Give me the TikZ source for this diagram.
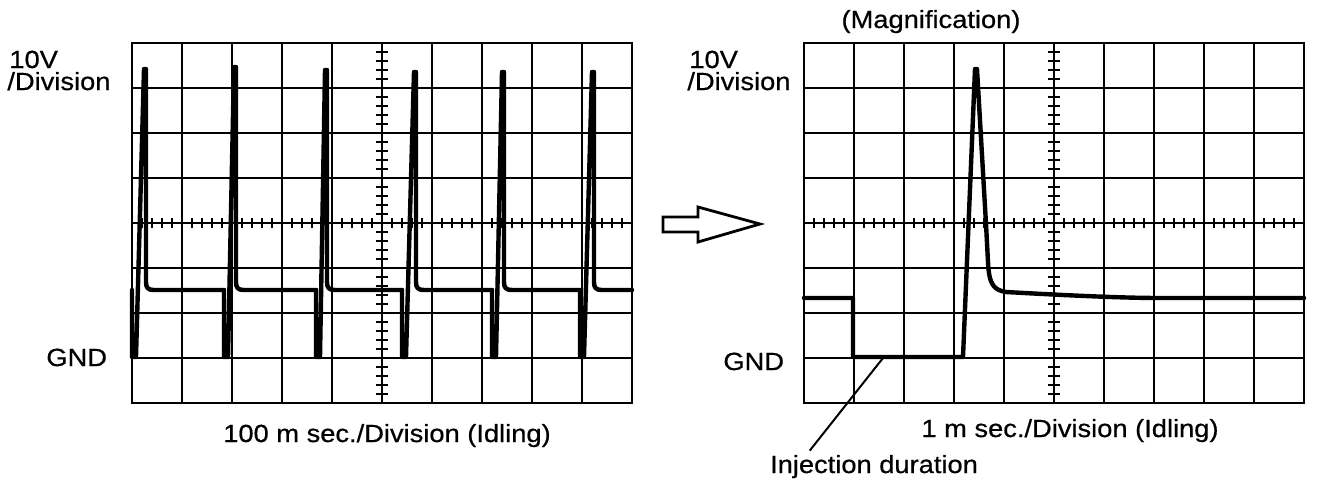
\documentclass[tikz,border=0pt]{standalone}
\usepackage{fontspec}
\usepackage{tikz}
\newfontfamily\labelfont[FakeStretch=1.1, FakeBold=0.6]{Liberation Sans}

\begin{document}
\begin{tikzpicture}[x=0.5pt, y=-0.5pt,
		gridline/.style={line width=1.4pt, line cap=rect},
		minortick/.style={line width=1.1pt},
		wave/.style={line width=2.2pt, line cap=round, line join=round},
		lbl/.style={font=\labelfont\fontsize{12.4}{14}\selectfont, inner sep=0pt}]
		\useasboundingbox (0,0) rectangle (1328,488);
		% screens
		\foreach \ox in {132,804}{
			\draw [gridline] (\ox,43) rectangle (\ox+500,403);
			\foreach \i in {1,...,9}{
				\draw [gridline] (\ox+50*\i,43)--(\ox+50*\i,403);
			}
			\foreach \j in {1,...,7}{
				\draw [gridline] (\ox,43+45*\j)--(\ox+500,43+45*\j);
			}
			% minor ticks on the centre lines
			\foreach \k in {1,...,49}{
				\draw [minortick] (\ox+10*\k,218)--(\ox+10*\k,228);
			}
			\foreach \k in {1,...,39}{
				\draw [minortick] (\ox+244,43+9*\k)--(\ox+256,43+9*\k);
			}
		}
		% idling wave (100 m sec.)
		\foreach \f/\p/\h/\n in {132/145/69/224, 224/235/67/316, 316/326/70/402, 402/415/72/492, 492/503/72/580, 580/593/72/632}{
			\draw [wave] (\f,290)--(\f,357)--(\f+4,357)--(\p-1,\h)--(\p+1,\h)--(\p+1,282)
				.. controls (\p+1,288) and (\p+3,290) .. (\p+9,290)--(\n,290);
		}
		% magnified wave (1 m sec.)
		\draw [wave] (804,298)--(853,298)--(853,357)--(963,357)--(975,69)--(977,69)--(986,224)--(988,262)
			.. controls (989,285) and (994,290) .. (1006,292)
			.. controls (1060,295) and (1120,298) .. (1160,298)--(1304,298);
		% hollow arrow
		\draw [line width=1.4pt, line join=miter] (663,217)--(698,217)--(698,207)--(760,224)--(698,242)--(698,232)--(663,232)--cycle;
		% labels:
		\node [lbl, anchor=base west] (lvolt) at (9,68) {10V};
		\node [lbl, anchor=base west] (ldiv) at (7,90) {/Division};
		\node [lbl, anchor=base west] (lgnd) at (46,366) {GND};
		\node [lbl, anchor=base] (lbase) at (387,442) {100 m sec./Division (Idling)};
		\node [lbl, anchor=base] (mag) at (931,28) {(Magnification)};
		\node [lbl, anchor=base west] (rvolt) at (689,68) {10V};
		\node [lbl, anchor=base west] (rdiv) at (687,90) {/Division};
		\node [lbl, anchor=base west] (rgnd) at (723,370) {GND};
		\node [lbl, anchor=base] (rbase) at (1070,437) {1 m sec./Division (Idling)};
		\node [lbl, anchor=base] (inj) at (874,473) {Injection duration};
		% leader to injection start
		\coordinate (injtip) at (883,358);
		\draw [line width=1pt] ([xshift=20pt, yshift=2pt]inj.north west)--(injtip);
	\end{tikzpicture}
\end{document}
